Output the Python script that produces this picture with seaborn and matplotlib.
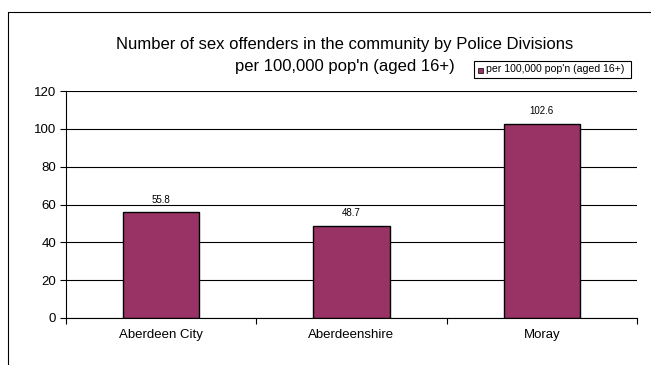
import matplotlib
matplotlib.use("Agg")
import matplotlib.pyplot as plt
import seaborn as sns
import pandas as pd
from matplotlib.patches import Rectangle

divisions = ["Aberdeen City", "Aberdeenshire", "Moray"]
rates = [55.8, 48.7, 102.6]
series_name = "per 100,000 pop'n (aged 16+)"
y_ticks = [0, 20, 40, 60, 80, 100, 120]

sns.set_theme(style="white")
plt.rcParams["font.family"] = ["Liberation Sans", "DejaVu Sans"]
plt.rcParams["text.color"] = "black"
plt.rcParams["xtick.color"] = "black"
plt.rcParams["ytick.color"] = "black"

df = pd.DataFrame({"Division": divisions, "Rate": rates, "Series": series_name})

fig = plt.figure(figsize=(6.51, 3.65), dpi=100)
W, H = 651, 365
ax = fig.add_axes([66 / W, 1 - 318 / H, (637 - 66) / W, (318 - 91) / H])

sns.barplot(data=df, x="Division", y="Rate", hue="Series", ax=ax,
            palette=["#993366"], saturation=1, edgecolor="black", linewidth=1.0,
            width=0.4, legend=False)

ax.set_ylim(0, 120)
ax.set_xlim(-0.5, 2.5)
ax.set_yticks(y_ticks)
ax.yaxis.grid(True, color="black", linewidth=0.8)
ax.set_axisbelow(True)
ax.set_xlabel("")
ax.set_ylabel("")
for s in ["top", "right"]:
    ax.spines[s].set_visible(False)
for s in ["left", "bottom"]:
    ax.spines[s].set_color("black")
    ax.spines[s].set_linewidth(0.8)

ax.tick_params(axis="y", which="major", length=4, width=0.8, color="black",
               labelsize=9.5, direction="out", left=True, pad=3)
ax.set_xticks([0, 1, 2])
ax.set_xticklabels(divisions)
ax.tick_params(axis="x", which="major", length=0, labelsize=9.5, pad=8)
ax.set_xticks([-0.5, 0.5, 1.5, 2.5], minor=True)
ax.tick_params(axis="x", which="minor", length=4, width=0.8, color="black",
               direction="out", bottom=True)

for i, v in enumerate(rates):
    ax.text(i, v + 4, f"{v:.1f}", ha="center", va="bottom", fontsize=7)

fig.text(345 / W, 1 - 44 / H, "Number of sex offenders in the community by Police Divisions",
         ha="center", va="center", fontsize=12)
fig.text(345 / W, 1 - 66 / H, "per 100,000 pop'n (aged 16+)",
         ha="center", va="center", fontsize=12)

# legend box
fig.patches.append(Rectangle((474 / W, 1 - 78 / H), (631 - 474) / W, 17 / H,
                             transform=fig.transFigure, facecolor="white",
                             edgecolor="black", linewidth=0.8))
fig.patches.append(Rectangle((478 / W, 1 - 72.5 / H), 5 / W, 5 / H,
                             transform=fig.transFigure, facecolor="#993366",
                             edgecolor="black", linewidth=0.5))
fig.text(486 / W, 1 - 69.5 / H, series_name, ha="left", va="center", fontsize=7.6)

# outer chart frame
fig.add_artist(plt.Line2D([8 / W, 8 / W], [0, 1 - 12 / H], transform=fig.transFigure,
                          color="black", linewidth=0.8))
fig.add_artist(plt.Line2D([8 / W, 1], [1 - 12 / H, 1 - 12 / H], transform=fig.transFigure,
                          color="black", linewidth=0.8))

fig.savefig("out.png", dpi=100)
